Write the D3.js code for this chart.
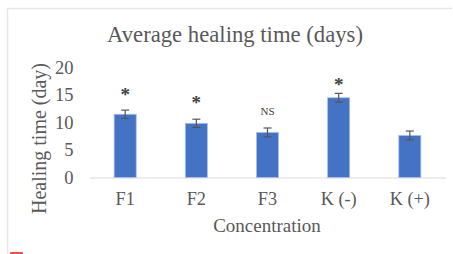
<!DOCTYPE html>
<html><head><meta charset="utf-8">
<script src="https://cdn.jsdelivr.net/npm/d3@7"></script>
<style>body{margin:0;background:#fff;}svg{display:block;}</style>
</head><body>
<script>
const categories = ["F1", "F2", "F3", "K (-)", "K (+)"];
const values = [11.5, 9.85, 8.2, 14.5, 7.65];
const errors = [0.75, 0.75, 0.8, 0.8, 0.8];
const marks = ["*", "*", "NS", "*", ""];
const markLevels = [15.6, 14.1, 12.1, 17.4, 0];
const yTicks = [0, 5, 10, 15, 20];

const W = 453, H = 254;
const svg = d3.select("body").append("svg").attr("width", W).attr("height", H);
const font = "'Liberation Serif', 'Times New Roman', serif";
const txt = "#595959";

// outer frame
svg.append("line").attr("x1", 7.5).attr("x2", 452).attr("y1", 8.5).attr("y2", 8.5).attr("stroke", "#e6e6e6").attr("stroke-width", 1.5);
svg.append("line").attr("x1", 7.5).attr("x2", 7.5).attr("y1", 8.5).attr("y2", 254).attr("stroke", "#e6e6e6").attr("stroke-width", 1.5);
svg.append("rect").attr("x", 10).attr("y", 252).attr("width", 13).attr("height", 3).attr("fill", "#f05050").attr("rx", 1);

const x = d3.scaleBand().domain(categories).range([89.6, 445.4]).paddingInner(0.69).paddingOuter(0.345);
const y = d3.scaleLinear().domain([0, 20]).range([177.5, 67.5]);

// title
svg.append("text").attr("x", 235).attr("y", 41.5).attr("text-anchor", "middle")
  .attr("font-family", font).attr("font-size", 22.7).attr("fill", txt).text("Average healing time (days)");

// y axis labels
const yAxis = d3.axisLeft(y).tickValues(yTicks).tickSize(0).tickPadding(0).tickFormat(d3.format("d"));
const gy = svg.append("g").attr("transform", "translate(73.5,0)").call(yAxis);
gy.select(".domain").remove();
gy.selectAll("text").attr("font-family", font).attr("font-size", 18.5).attr("fill", txt);

// x axis
const xAxis = d3.axisBottom(x).tickSize(0).tickPadding(14.5);
const gx = svg.append("g").attr("transform", `translate(0,${y(0)})`).call(xAxis);
gx.select(".domain").attr("stroke", "#d9d9d9").attr("stroke-width", 1.2);
gx.selectAll("text").attr("font-family", font).attr("font-size", 18.3).attr("fill", txt);

// bars
svg.selectAll("rect.bar").data(values).join("rect").attr("class", "bar")
  .attr("x", (d, i) => x(categories[i])).attr("width", x.bandwidth())
  .attr("y", d => y(d)).attr("height", d => y(0) - y(d))
  .attr("fill", "#4472c4").attr("stroke", "#a9c1ea").attr("stroke-width", 0.8);

// error bars
const eb = svg.selectAll("g.err").data(values).join("g").attr("class", "err")
  .attr("transform", (d, i) => `translate(${x(categories[i]) + x.bandwidth() / 2},0)`);
eb.append("line").attr("y1", (d, i) => y(d + errors[i])).attr("y2", (d, i) => y(d - errors[i])).attr("stroke", "#555").attr("stroke-width", 1.2);
eb.append("line").attr("x1", -4).attr("x2", 4).attr("y1", (d, i) => y(d + errors[i])).attr("y2", (d, i) => y(d + errors[i])).attr("stroke", "#555").attr("stroke-width", 1.2);
eb.append("line").attr("x1", -4).attr("x2", 4).attr("y1", (d, i) => y(d - errors[i])).attr("y2", (d, i) => y(d - errors[i])).attr("stroke", "#555").attr("stroke-width", 1.2);

// significance marks
svg.selectAll("text.mark").data(marks).join("text").attr("class", "mark")
  .attr("x", (d, i) => x(categories[i]) + x.bandwidth() / 2)
  .attr("y", (d, i) => y(markLevels[i]) + (d === "NS" ? 4 : 9.5))
  .attr("text-anchor", "middle").attr("font-family", font)
  .attr("font-size", d => d === "NS" ? 11 : 19)
  .attr("font-weight", d => d === "NS" ? "normal" : "bold")
  .attr("fill", "#404040")
  .text(d => d);

// axis titles
svg.append("text").attr("x", 267).attr("y", 231.5).attr("text-anchor", "middle")
  .attr("font-family", font).attr("font-size", 19).attr("fill", txt).text("Concentration");
svg.append("text").attr("transform", "translate(46,138.5) rotate(-90)").attr("text-anchor", "middle")
  .attr("font-family", font).attr("font-size", 20).attr("fill", txt).text("Healing time (day)");
</script>
</body></html>
